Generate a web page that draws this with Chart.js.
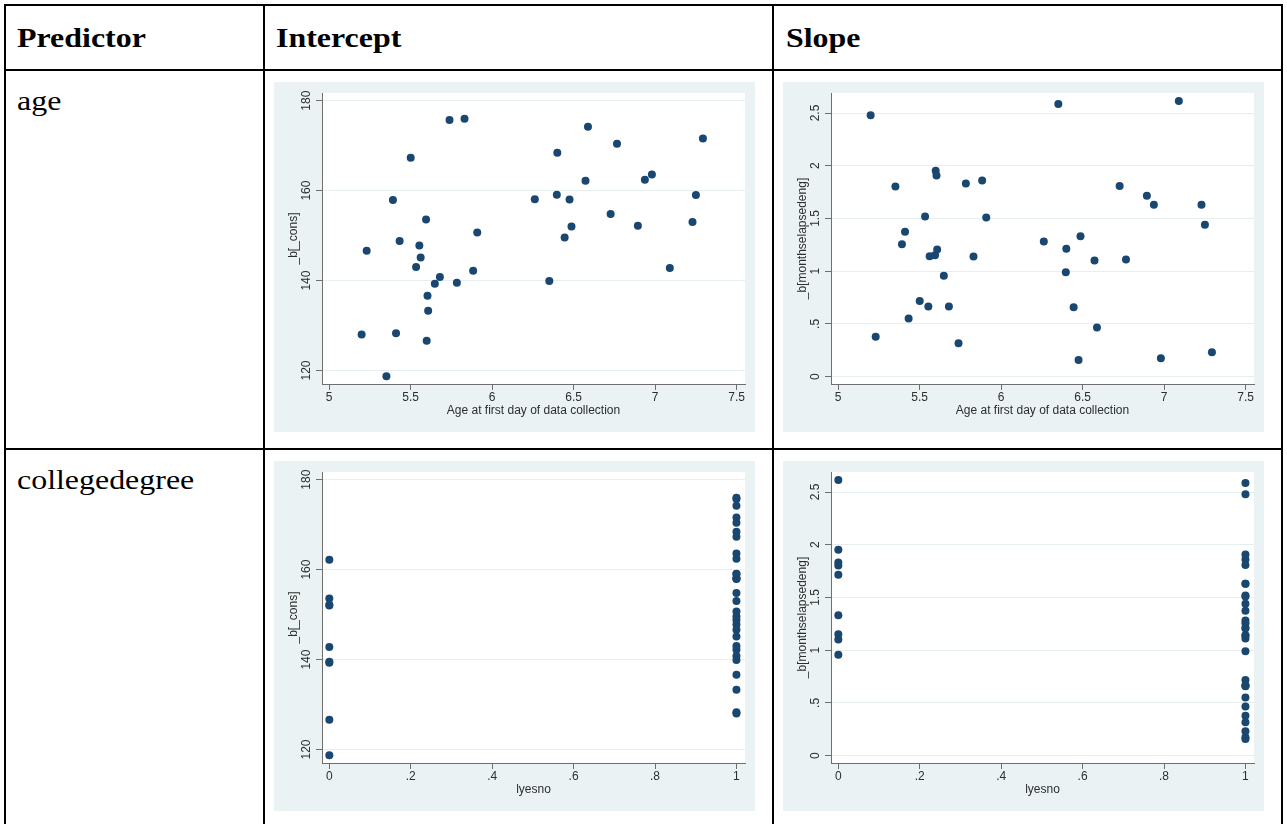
<!DOCTYPE html>
<html>
<head>
<meta charset="utf-8">
<script src="https://cdn.jsdelivr.net/npm/chart.js@4"></script>
<style>
  body { margin: 0; background: #fff; width: 1287px; height: 824px; overflow: hidden; position: relative;
         font-family: "Liberation Serif", "Times New Roman", serif; }
  .ln { position: absolute; background: #000; }
  .txt { position: absolute; font-size: 28px; line-height: 28px; color: #000; white-space: nowrap;
         transform: scaleX(1.14); transform-origin: left center; }
  .hd { font-weight: bold; }
  canvas { position: absolute; background: #eaf2f3; }
</style>
</head>
<body>
<!-- table rules -->
<div class="ln" style="left:4px;top:4px;width:1279px;height:2px"></div>
<div class="ln" style="left:4px;top:69px;width:1279px;height:2px"></div>
<div class="ln" style="left:4px;top:448px;width:1279px;height:2px"></div>
<div class="ln" style="left:4px;top:4px;width:2px;height:830px"></div>
<div class="ln" style="left:263px;top:4px;width:2px;height:830px"></div>
<div class="ln" style="left:772px;top:4px;width:2px;height:830px"></div>
<div class="ln" style="left:1281px;top:4px;width:2px;height:830px"></div>

<div class="txt hd" style="left:17px;top:24px">Predictor</div>
<div class="txt hd" style="left:276px;top:24px">Intercept</div>
<div class="txt hd" style="left:786px;top:24px">Slope</div>
<div class="txt" style="left:17px;top:87px">age</div>
<div class="txt" style="left:17px;top:466px">collegedegree</div>

<canvas id="ageInt" width="481" height="350" style="left:274px;top:82px"></canvas>
<canvas id="ageSlope" width="481" height="350" style="left:783px;top:82px"></canvas>
<canvas id="colInt" width="481" height="350" style="left:274px;top:461px"></canvas>
<canvas id="colSlope" width="481" height="350" style="left:783px;top:461px"></canvas>

<script>
// one entry per unit, ordered by age
const age = [5.20, 5.231, 5.352, 5.392, 5.411, 5.433, 5.501, 5.534, 5.554, 5.562,
             5.595, 5.599, 5.604, 5.608, 5.649, 5.680, 5.739, 5.784, 5.831, 5.884,
             5.909, 6.262, 6.351, 6.397, 6.400, 6.445, 6.475, 6.487, 6.573, 6.588,
             6.727, 6.766, 6.894, 6.937, 6.980, 7.090, 7.229, 7.250, 7.293];
const intercept = [128.0, 146.6, 118.7, 157.9, 128.3, 148.8, 167.3, 143.0, 147.8, 145.1,
                   153.6, 126.6, 136.6, 133.3, 139.3, 140.8, 175.7, 139.5, 176.0, 142.2,
                   150.7, 158.1, 139.9, 159.1, 168.4, 149.6, 158.0, 152.0, 162.2, 174.2,
                   154.8, 170.4, 152.2, 162.4, 163.6, 142.8, 153.0, 159.0, 171.6];
const slope = [2.48, 0.377, 1.804, 1.256, 1.373, 0.551, 0.718, 1.519, 0.665, 1.142,
               1.152, 1.953, 1.908, 1.206, 0.956, 0.665, 0.316, 1.832, 1.139, 1.861,
               1.509, 1.282, 2.585, 0.991, 1.212, 0.658, 0.158, 1.332, 1.101, 0.465,
               1.807, 1.111, 1.715, 1.630, 0.174, 2.614, 1.630, 1.440, 0.231];
const lyesno = [1, 1, 0, 1, 1, 1, 1, 1, 1, 1,
                0, 0, 1, 1, 0, 1, 1, 0, 1, 1,
                1, 1, 1, 1, 1, 1, 1, 0, 0, 1,
                1, 1, 0, 1, 1, 0, 1, 1, 1];

const ageTicks = [5, 5.5, 6, 6.5, 7, 7.5];
const lyesnoTicks = [0, 0.2, 0.4, 0.6, 0.8, 1];
const interceptTicks = [120, 140, 160, 180];
const slopeTicks = [0, 0.5, 1, 1.5, 2, 2.5];

const navy = '#1a476f';
const axisCol = '#6e6e6e';
const textCol = '#2e2e2e';
const gridCol = '#e6eef0';
const sans = { family: '"Liberation Sans", Arial, sans-serif', size: 12 };

// Stata drops the leading zero: .5, .2 ...
const fmt = v => String(v).replace(/^0\./, '.');

const plotBg = {
  id: 'plotBg',
  beforeDraw(c) {
    const { ctx, chartArea: a } = c;
    ctx.save();
    ctx.fillStyle = '#fff';
    ctx.fillRect(a.left, a.top, a.right - a.left, a.bottom - a.top);
    ctx.restore();
  }
};

function panel(id, xs, ys, xRange, xTicks, xTitle, yRange, yTicks, yTitle, yPad) {
  new Chart(document.getElementById(id), {
    type: 'scatter',
    data: {
      datasets: [{
        data: xs.map((x, i) => ({ x: x, y: ys[i] })),
        backgroundColor: navy,
        borderWidth: 0,
        pointRadius: 4,
        pointHoverRadius: 4
      }]
    },
    options: {
      responsive: false,
      animation: false,
      events: [],
      layout: { padding: { left: 0, top: 11, right: 10, bottom: 0 } },
      plugins: { legend: { display: false }, tooltip: { enabled: false } },
      scales: {
        x: {
          type: 'linear', position: 'bottom', min: xRange[0], max: xRange[1],
          afterBuildTicks: s => { s.ticks = xTicks.map(v => ({ value: v })); },
          afterFit: s => { s.height = 48; },
          ticks: { autoSkip: false, minRotation: 0, maxRotation: 0, padding: 0,
                   color: textCol, font: sans, callback: v => fmt(v) },
          grid: { drawOnChartArea: false, tickColor: axisCol, tickLength: 6 },
          border: { color: axisCol, width: 1 },
          title: { display: true, text: xTitle, color: textCol, font: sans,
                   padding: { top: 0, bottom: 14 } }
        },
        y: {
          type: 'linear', position: 'left', min: yRange[0], max: yRange[1],
          afterBuildTicks: s => { s.ticks = yTicks.map(v => ({ value: v })); },
          afterFit: s => { s.width = 48; },
          ticks: { autoSkip: false, minRotation: 90, maxRotation: 90, crossAlign: 'center',
                   padding: yPad, color: textCol, font: sans, callback: v => fmt(v) },
          grid: { color: gridCol, lineWidth: 1, tickColor: axisCol, tickLength: 6 },
          border: { color: axisCol, width: 1 },
          title: { display: true, text: yTitle, color: textCol, font: sans,
                   padding: { top: 12.8, bottom: 0 } }
        }
      }
    },
    plugins: [plotBg]
  });
}

const ageRange = [4.957, 7.551];
const lyRange = [-0.018, 1.021];
const intRange = [117.0, 181.7];
const slopeRange = [-0.07, 2.69];

panel('ageInt', age, intercept, ageRange, ageTicks, 'Age at first day of data collection',
      intRange, interceptTicks, '_b[_cons]', -1);
panel('ageSlope', age, slope, ageRange, ageTicks, 'Age at first day of data collection',
      slopeRange, slopeTicks, '_b[monthselapsedeng]', 0.6);
panel('colInt', lyesno, intercept, lyRange, lyesnoTicks, 'lyesno',
      intRange, interceptTicks, '_b[_cons]', -1);
panel('colSlope', lyesno, slope, lyRange, lyesnoTicks, 'lyesno',
      slopeRange, slopeTicks, '_b[monthselapsedeng]', 0.6);
</script>
</body>
</html>
